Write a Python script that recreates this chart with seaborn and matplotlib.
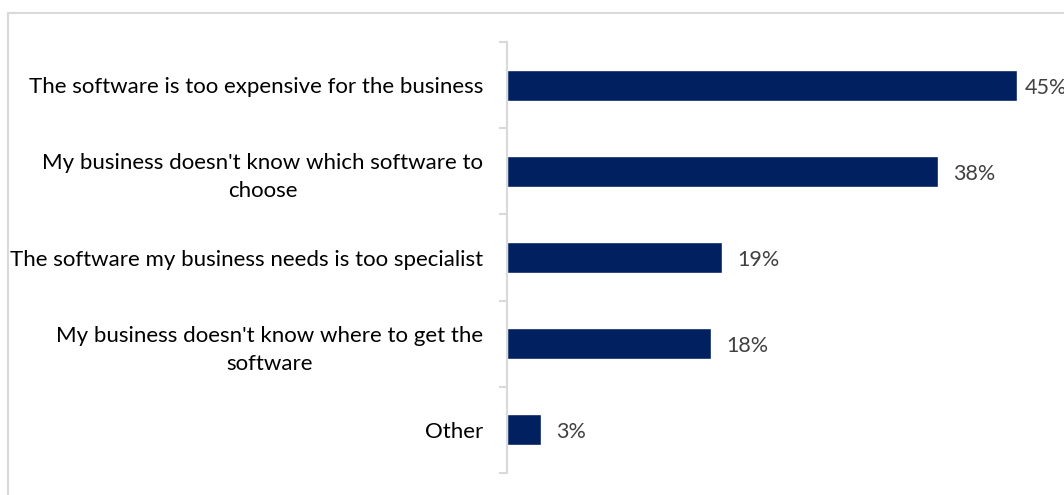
import matplotlib
matplotlib.use("Agg")
import matplotlib.pyplot as plt
import seaborn as sns
import pandas as pd
import numpy as np
from matplotlib.patches import Rectangle

categories = [
    "The software is too expensive for the business",
    "My business doesn't know which software to\nchoose",
    "The software my business needs is too specialist",
    "My business doesn't know where to get the\nsoftware",
    "Other",
]
values = [45, 38, 19, 18, 3]

df = pd.DataFrame({"reason": categories, "share": values})

sns.set_theme(style="white")
plt.rcParams["font.family"] = ["Lato", "DejaVu Sans"]

W, H = 1064, 495
fig = plt.figure(figsize=(W / 100, H / 100), dpi=100)

# chart frame
fig.patches.append(Rectangle((8 / W, -0.1), 1.2, (H - 13) / H + 0.1,
                             transform=fig.transFigure, fill=False,
                             edgecolor="#d9d9d9", linewidth=1.5, zorder=0))

ax = fig.add_axes([507 / W, (H - 473) / H, (W - 507) / W, (473 - 42) / H])
sns.barplot(data=df, y="reason", x="share", orient="h", color="#002060",
            width=0.36, saturation=1, ax=ax)

px_per_unit = 510 / 45
xmax = (W - 507) / px_per_unit
ax.set_xlim(0, xmax)
ax.set_ylim(len(categories) - 0.5, -0.5)

gap = 1.35
for i, v in enumerate(values):
    x = min(v + gap, xmax - 3.5)
    ax.text(x, i + 0.03, f"{v}%", va="center", ha="left",
            fontsize=15.5, color="#404040", clip_on=False)

for s in ["top", "right", "bottom"]:
    ax.spines[s].set_visible(False)
ax.spines["left"].set_color("#d9d9d9")
ax.spines["left"].set_linewidth(1.5)

ax.set_xticks([])
ax.set_xlabel("")
ax.set_ylabel("")
ax.set_yticks(range(len(categories)))
ax.set_yticklabels(categories, fontsize=16, color="#000000")
ax.tick_params(axis="y", which="major", length=0, pad=17)
ax.set_yticks(np.arange(-0.5, len(categories), 1), minor=True)
ax.tick_params(axis="y", which="minor", length=6, width=1.5, color="#d9d9d9", left=True)
for lbl in ax.get_yticklabels():
    lbl.set_multialignment("center")
    lbl.set_linespacing(1.5)

fig.savefig("out.png", dpi=100)
